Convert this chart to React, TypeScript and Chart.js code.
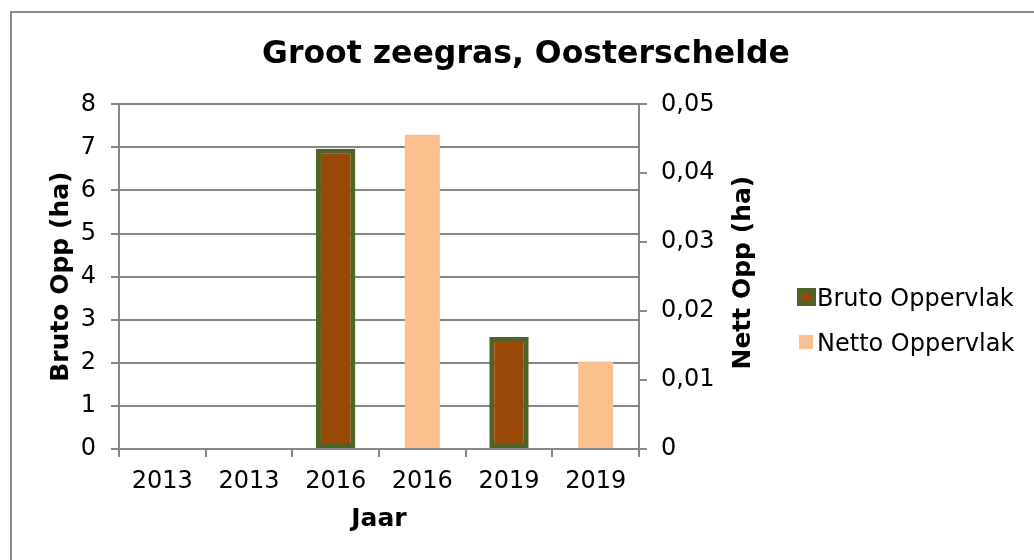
import React, { useEffect, useRef } from "react";
import { Chart, registerables } from "chart.js";

Chart.register(...registerables);

const chartTitle = "Groot zeegras, Oosterschelde";
const categories = ["2013", "2013", "2016", "2016", "2019", "2019"];
const brutoLabel = "Bruto Oppervlak";
const nettoLabel = "Netto Oppervlak";
const brutoValues: (number | null)[] = [null, null, 6.97, null, 2.6, null];
const nettoValues: (number | null)[] = [null, null, null, 0.0456, null, 0.0127];
const leftAxisTitle = "Bruto Opp (ha)";
const rightAxisTitle = "Nett Opp (ha)";
const xAxisTitle = "Jaar";
const leftMin = 0;
const leftMax = 8;
const leftStep = 1;
const rightMin = 0;
const rightMax = 0.05;
const rightStep = 0.01;

const FONT = "'DejaVu Sans', Verdana, sans-serif";
const GRID = "#878787";
const BRUTO_FILL = "#984807";
const BRUTO_BORDER = "#4F6228";
const NETTO_FILL = "#FAC090";

const W = 1034;
const H = 560;
const LEFT_PAD = 20;
const PLOT_LEFT = 119;
const PLOT_RIGHT = 639;
const RIGHT_PAD = 2;
const RIGHT_AXIS_W = W - PLOT_RIGHT - RIGHT_PAD;

const extrasPlugin = {
  id: "extras",
  afterDraw(chart: any) {
    const ctx = chart.ctx as CanvasRenderingContext2D;
    const area = chart.chartArea;
    ctx.save();
    // right axis title, reading bottom to top
    ctx.font = `bold 25px ${FONT}`;
    ctx.fillStyle = "#000";
    ctx.textAlign = "center";
    ctx.textBaseline = "alphabetic";
    ctx.translate(750, (area.top + area.bottom) / 2 - 4);
    ctx.rotate(-Math.PI / 2);
    ctx.fillText(rightAxisTitle, 0, 0);
    ctx.restore();

    // legend
    ctx.save();
    ctx.font = `24px ${FONT}`;
    ctx.textAlign = "left";
    ctx.textBaseline = "alphabetic";
    const baseCenter = 297;
    const rowGap = 45;
    chart.data.datasets.forEach((ds: any, i: number) => {
      const cy = baseCenter + i * rowGap;
      if (ds.borderWidth && ds.borderWidth > 0) {
        ctx.fillStyle = ds.borderColor;
        ctx.fillRect(797, cy - 9, 19, 18);
        ctx.fillStyle = ds.backgroundColor;
        ctx.fillRect(802, cy - 4, 9, 8);
      } else {
        ctx.fillStyle = ds.backgroundColor;
        ctx.fillRect(799, cy - 7, 14, 14);
      }
      ctx.fillStyle = "#000";
      ctx.fillText(ds.label, 817, cy + 8.7);
    });
    ctx.restore();
  },
};

export default function App() {
  const canvasRef = useRef<HTMLCanvasElement | null>(null);

  useEffect(() => {
    if (!canvasRef.current) return;
    const chart = new Chart(canvasRef.current, {
      type: "bar",
      data: {
        labels: categories,
        datasets: [
          {
            label: brutoLabel,
            data: brutoValues,
            yAxisID: "y",
            backgroundColor: BRUTO_FILL,
            borderColor: BRUTO_BORDER,
            borderWidth: 5,
            borderSkipped: false,
            skipNull: true,
            categoryPercentage: 1,
            barPercentage: 0.455,
          } as any,
          {
            label: nettoLabel,
            data: nettoValues,
            yAxisID: "y1",
            backgroundColor: NETTO_FILL,
            borderWidth: 0,
            skipNull: true,
            categoryPercentage: 1,
            barPercentage: 0.404,
          } as any,
        ],
      },
      options: {
        animation: false,
        responsive: false,
        layout: {
          padding: { left: LEFT_PAD, top: 0, right: RIGHT_PAD, bottom: 21 },
        },
        plugins: {
          legend: { display: false },
          tooltip: { enabled: false },
          title: {
            display: true,
            text: chartTitle,
            color: "#000",
            font: { family: FONT, size: 31.5, weight: "bold" },
            padding: { top: 36, bottom: 30.5 },
          },
        },
        scales: {
          x: {
            offset: true,
            grid: {
              offset: true,
              drawOnChartArea: false,
              drawTicks: true,
              tickLength: 8,
              color: GRID,
              lineWidth: 2,
            },
            border: { color: GRID, width: 2 },
            ticks: {
              color: "#000",
              font: { family: FONT, size: 24 },
              padding: 10,
              maxRotation: 0,
              autoSkip: false,
            },
            title: {
              display: true,
              text: xAxisTitle,
              color: "#000",
              font: { family: FONT, size: 25, weight: "bold" },
              padding: { top: 0, bottom: 5 },
            },
            afterFit: (s: any) => {
              s.height = 90;
            },
          },
          y: {
            position: "left",
            min: leftMin,
            max: leftMax,
            ticks: {
              stepSize: leftStep,
              color: "#000",
              font: { family: FONT, size: 24 },
              padding: 15,
            },
            grid: { color: GRID, lineWidth: 2, tickLength: 8 },
            border: { color: GRID, width: 2 },
            title: {
              display: true,
              text: leftAxisTitle,
              color: "#000",
              font: { family: FONT, size: 25, weight: "bold" },
              padding: { top: 26, bottom: 0 },
            },
            afterFit: (s: any) => {
              s.width = PLOT_LEFT - LEFT_PAD;
            },
          },
          y1: {
            position: "right",
            min: rightMin,
            max: rightMax,
            ticks: {
              stepSize: rightStep,
              color: "#000",
              font: { family: FONT, size: 24 },
              padding: 14,
              callback: (v: any) => {
                const n = Number(v);
                return n === 0 ? "0" : n.toFixed(2).replace(".", ",");
              },
            },
            grid: { drawOnChartArea: false, color: GRID, lineWidth: 2, tickLength: 8 },
            border: { color: GRID, width: 2 },
            afterFit: (s: any) => {
              s.width = RIGHT_AXIS_W;
            },
          },
        },
      } as any,
      plugins: [extrasPlugin],
    });
    return () => chart.destroy();
  }, []);

  return (
    <div style={{ position: "fixed", left: 0, top: 0, width: W, height: H, background: "#fff" }}>
      <canvas ref={canvasRef} width={W} height={H} style={{ display: "block" }} />
      <div
        style={{
          position: "fixed",
          left: 10,
          top: 11,
          right: 0,
          bottom: 0,
          borderTop: "2px solid #8a8a8a",
          borderLeft: "2px solid #8a8a8a",
          pointerEvents: "none",
        }}
      />
    </div>
  );
}
